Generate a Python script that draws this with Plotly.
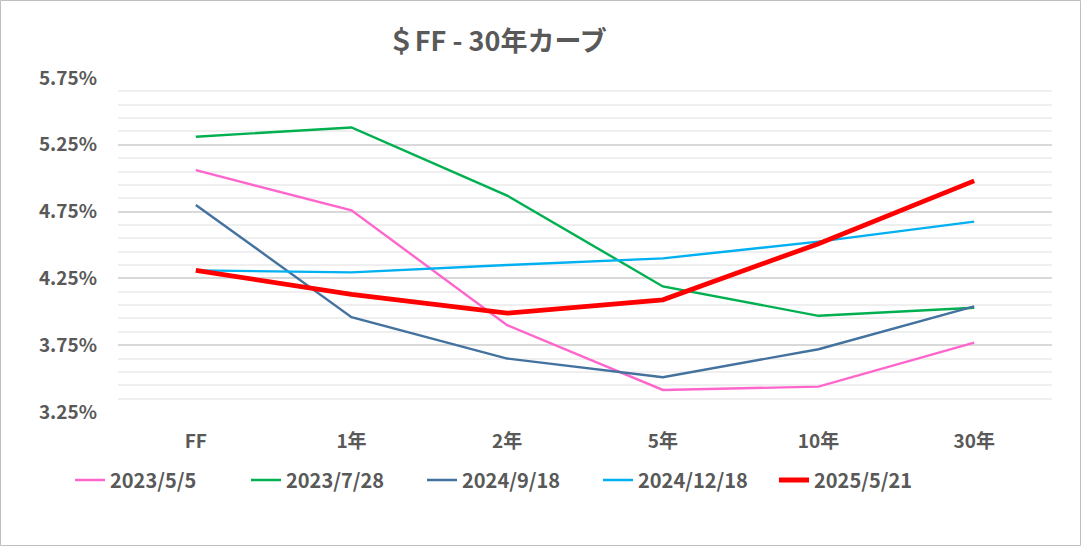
import plotly.graph_objects as go

# tenors on the x axis
tenors = ["FF", "1年", "2年", "5年", "10年", "30年"]

# curve values (%)
curve_2023_05_05 = [5.06, 4.76, 3.90, 3.415, 3.44, 3.77]
curve_2023_07_28 = [5.31, 5.38, 4.87, 4.19, 3.97, 4.03]
curve_2024_09_18 = [4.80, 3.96, 3.65, 3.51, 3.72, 4.04]
curve_2024_12_18 = [4.31, 4.295, 4.35, 4.40, 4.525, 4.675]
curve_2025_05_21 = [4.31, 4.13, 3.99, 4.09, 4.51, 4.98]

series_names = ["2023/5/5", "2023/7/28", "2024/9/18", "2024/12/18", "2025/5/21"]
series_values = [curve_2023_05_05, curve_2023_07_28, curve_2024_09_18,
                 curve_2024_12_18, curve_2025_05_21]
colors = ["#FF66CC", "#00B050", "#44729E", "#00B0F0", "#FF0000"]
widths = [2.4, 2.4, 2.4, 2.4, 4.8]

font = "Noto Sans CJK JP"
grey = "#595959"

fig = go.Figure()
for name, vals, col, w in zip(series_names, series_values, colors, widths):
    fig.add_trace(go.Scatter(
        x=tenors, y=vals, name="<b>" + name + "</b>", mode="lines",
        line=dict(color=col, width=w),
    ))

W, H = 1081, 546
L, R, T, B = 118, 29, 78, 134
pw, ph = W - L - R, H - T - B

fig.update_layout(
    width=W, height=H,
    margin=dict(l=L, r=R, t=T, b=B),
    paper_bgcolor="white", plot_bgcolor="white",
    font=dict(family=font, color=grey, size=19),
    title=dict(text="<b>＄FF - 30年カーブ</b>", xref="container", x=0.46,
               y=1 - 42 / H, yanchor="middle", xanchor="center",
               font=dict(size=27, color=grey, family=font)),
    showlegend=True,
    legend=dict(orientation="h", x=(70 - L) / pw, xanchor="left",
                y=(T + ph - 480) / ph, yanchor="middle",
                entrywidth=131, entrywidthmode="pixels",
                font=dict(size=20, color=grey, family=font),
                bgcolor="rgba(0,0,0,0)"),
    xaxis=dict(type="category", range=[-0.5, len(tenors) - 0.5],
               showgrid=False, zeroline=False, showline=False,
               ticks="", ticklabelstandoff=16,
               tickprefix="<b>", ticksuffix="</b>",
               tickfont=dict(size=19, color=grey, family=font)),
    yaxis=dict(range=[3.25, 5.75], tick0=3.25, dtick=0.5, tickformat=".2f",
               tickprefix="<b>", ticksuffix="%</b>",
               showgrid=True, gridcolor="#D9D9D9", gridwidth=2,
               zeroline=False, showline=False, ticks="", ticklabelstandoff=20,
               tickfont=dict(size=19, color=grey, family=font),
               minor=dict(dtick=0.1, tick0=3.25, showgrid=True,
                          gridcolor="#EFEFEF", gridwidth=1.5)),
    shapes=[dict(type="rect", xref="paper", yref="paper",
                 x0=(0.5 - L) / pw, x1=(W - 0.5 - L) / pw,
                 y0=-(B - 0.5) / ph, y1=1 + (T - 0.5) / ph,
                 line=dict(color="#BFBFBF", width=1), layer="below")],
)

fig.write_html("out.html", config={"displayModeBar": False},
               post_script="document.body.style.margin='0';")
